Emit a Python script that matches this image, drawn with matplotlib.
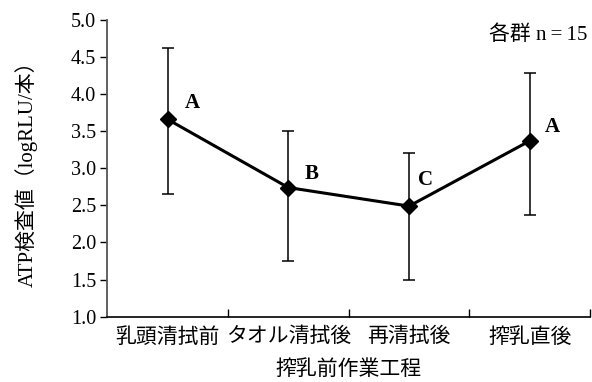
import matplotlib.pyplot as plt
from matplotlib.ticker import FixedLocator

plt.rcParams['font.family'] = ['Liberation Serif', 'Noto Sans CJK JP']

# work steps before milking, mean ATP value and error ranges
steps = ['乳頭清拭前', 'タオル清拭後', '再清拭後', '搾乳直後']
means = [3.66, 2.74, 2.49, 3.37]
upper = [4.62, 3.50, 3.20, 4.28]
lower = [2.66, 1.75, 1.50, 2.37]
groups = ['A', 'B', 'C', 'A']

x = list(range(len(steps)))
err_lo = [m - lo for m, lo in zip(means, lower)]
err_hi = [hi - m for m, hi in zip(means, upper)]

fig = plt.figure(figsize=(5.92, 3.82), dpi=100)
ax = fig.add_axes([0.181, 0.171, 0.816, 0.777])

ax.errorbar(x, means, yerr=[err_lo, err_hi], fmt='none', ecolor='black',
            elinewidth=1.1, capsize=4, capthick=1.1, zorder=2)
ax.plot(x, means, color='black', lw=2.2, marker='D', markersize=8,
        markerfacecolor='black', zorder=3)

# letter offsets (points) so each label sits clear of the line
offsets = [(18, 11.5), (17, 10), (11.5, 18.5), (16, 10)]
for xi, m, g, off in zip(x, means, groups, offsets):
    ax.annotate(g, (xi, m), xytext=off, textcoords='offset points',
                fontsize=15, fontweight='bold', ha='center', va='center')

ax.set_xlim(-0.5, len(steps) - 0.5)
ax.set_ylim(1.0, 5.0)
ax.set_yticks([1.0 + 0.5 * i for i in range(9)])
ax.set_yticklabels([f'{1.0 + 0.5 * i:.1f}' for i in range(9)])
ax.set_xticks(x)
ax.set_xticklabels(steps)
ax.xaxis.set_minor_locator(FixedLocator([i + 0.5 for i in x]))
ax.tick_params(axis='x', which='major', length=0, pad=8, labelsize=15)
ax.tick_params(axis='x', which='minor', direction='in', length=6, width=1)
ax.tick_params(axis='y', direction='out', length=5, width=1, labelsize=14.5, pad=3)

for side in ('top', 'right'):
    ax.spines[side].set_visible(False)
ax.spines['left'].set_color('#555555')
ax.spines['left'].set_linewidth(1.3)
ax.spines['bottom'].set_linewidth(1.2)

ax.set_ylabel('ATP検査値（logRLU/本）', fontsize=15, labelpad=24)
ax.set_xlabel('搾乳前作業工程', fontsize=15, labelpad=9)
ax.text(0.995, 0.95, '各群 n\u2009=\u200915', transform=ax.transAxes, ha='right',
        va='center', fontsize=15)

fig.savefig('out.png', dpi=100)
